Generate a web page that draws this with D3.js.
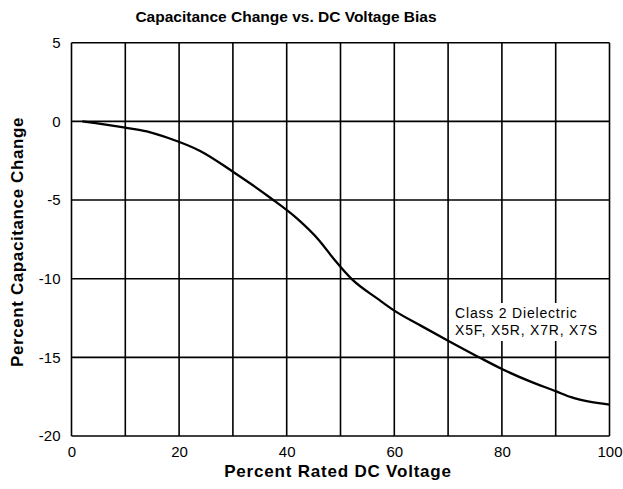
<!DOCTYPE html>
<html>
<head>
<meta charset="utf-8">
<script src="https://cdn.jsdelivr.net/npm/d3@7"></script>
<style>
  body { margin: 0; background: #fff; }
  text { font-family: "Liberation Sans", Arial, Helvetica, sans-serif; fill: #000; }
</style>
</head>
<body>
<div id="chart"></div>
<script>
// percent rated DC voltage vs percent capacitance change
const voltage = [2, 10, 14, 18, 24, 30, 37, 42, 46, 49, 52, 57, 60, 65, 70, 76, 80, 85, 90, 93, 96, 100];
const capChange = [0, -0.4, -0.64, -1.06, -1.9, -3.2, -4.87, -6.2, -7.55, -8.85, -10.0, -11.3, -12.03, -13.0, -13.94, -15.04, -15.74, -16.5, -17.15, -17.55, -17.8, -18.0];

const xTicks = [0, 20, 40, 60, 80, 100];
const xGrid = [0, 10, 20, 30, 40, 50, 60, 70, 80, 90, 100];
const yTicks = [5, 0, -5, -10, -15, -20];

const labelLines = ["Class 2 Dielectric", "X5F, X5R, X7R, X7S"];

const width = 623, height = 489;
const margin = { top: 42.7, right: 13.5, bottom: 53, left: 71.5 };
const innerW = width - margin.left - margin.right,
      innerH = height - margin.top - margin.bottom;

const svg = d3.select('#chart').append('svg')
    .attr('width', width)
    .attr('height', height);

const g = svg.append('g')
    .attr('transform', 'translate(' + margin.left + ',' + margin.top + ')');

const x = d3.scaleLinear().domain([0, 100]).range([0, innerW]);
const y = d3.scaleLinear().domain([-20, 5]).range([innerH, 0]);

// grid
g.append('g').selectAll('line')
    .data(xGrid)
    .enter().append('line')
    .attr('x1', d => x(d)).attr('x2', d => x(d))
    .attr('y1', 0).attr('y2', innerH)
    .attr('stroke', '#000').attr('stroke-width', 1.6);

g.append('g').selectAll('line')
    .data(yTicks)
    .enter().append('line')
    .attr('x1', 0).attr('x2', innerW)
    .attr('y1', d => y(d)).attr('y2', d => y(d))
    .attr('stroke', '#000').attr('stroke-width', 1.6);

// axes (labels only)
const xAxis = g.append('g')
    .attr('transform', 'translate(0,' + innerH + ')')
    .call(d3.axisBottom(x).tickValues(xTicks).tickSize(0).tickPadding(10));
const yAxis = g.append('g')
    .call(d3.axisLeft(y).tickValues(yTicks).tickSize(0).tickPadding(11).tickFormat(d => String(d)));
[xAxis, yAxis].forEach(a => {
    a.select('.domain').remove();
    a.selectAll('text')
        .attr('font-family', '"Liberation Sans", Arial, sans-serif')
        .attr('font-size', 15)
        .attr('fill', '#000');
});

// label with white backing
const label = g.append('g')
    .attr('transform', 'translate(' + x(71.3) + ',' + y(-12.5) + ')');
label.append('rect')
    .attr('x', -2).attr('y', -15)
    .attr('width', 154).attr('height', 38)
    .attr('fill', '#fff');
label.selectAll('text')
    .data(labelLines)
    .enter().append('text')
    .attr('x', 0)
    .attr('y', (d, i) => i * 17)
    .attr('font-size', 14)
    .attr('letter-spacing', 0.8)
    .text(d => d);

// curve
const line = d3.line()
    .x((d, i) => x(voltage[i]))
    .y(d => y(d))
    .curve(d3.curveMonotoneX);

g.append('path')
    .datum(capChange)
    .attr('fill', 'none')
    .attr('stroke', '#000')
    .attr('stroke-width', 2.3)
    .attr('stroke-linejoin', 'round')
    .attr('d', line);

// titles
svg.append('text')
    .attr('x', 286)
    .attr('y', 22)
    .attr('text-anchor', 'middle')
    .attr('font-size', 15.5)
    .attr('font-weight', 'bold')
    .text('Capacitance Change vs. DC Voltage Bias');

svg.append('text')
    .attr('x', 338)
    .attr('y', 477)
    .attr('text-anchor', 'middle')
    .attr('font-size', 17)
    .attr('font-weight', 'bold')
    .attr('letter-spacing', 0.8)
    .text('Percent Rated DC Voltage');

svg.append('text')
    .attr('transform', 'translate(23,' + 242 + ') rotate(-90)')
    .attr('text-anchor', 'middle')
    .attr('font-size', 17)
    .attr('font-weight', 'bold')
    .attr('letter-spacing', 0.6)
    .text('Percent Capacitance Change');
</script>
</body>
</html>
